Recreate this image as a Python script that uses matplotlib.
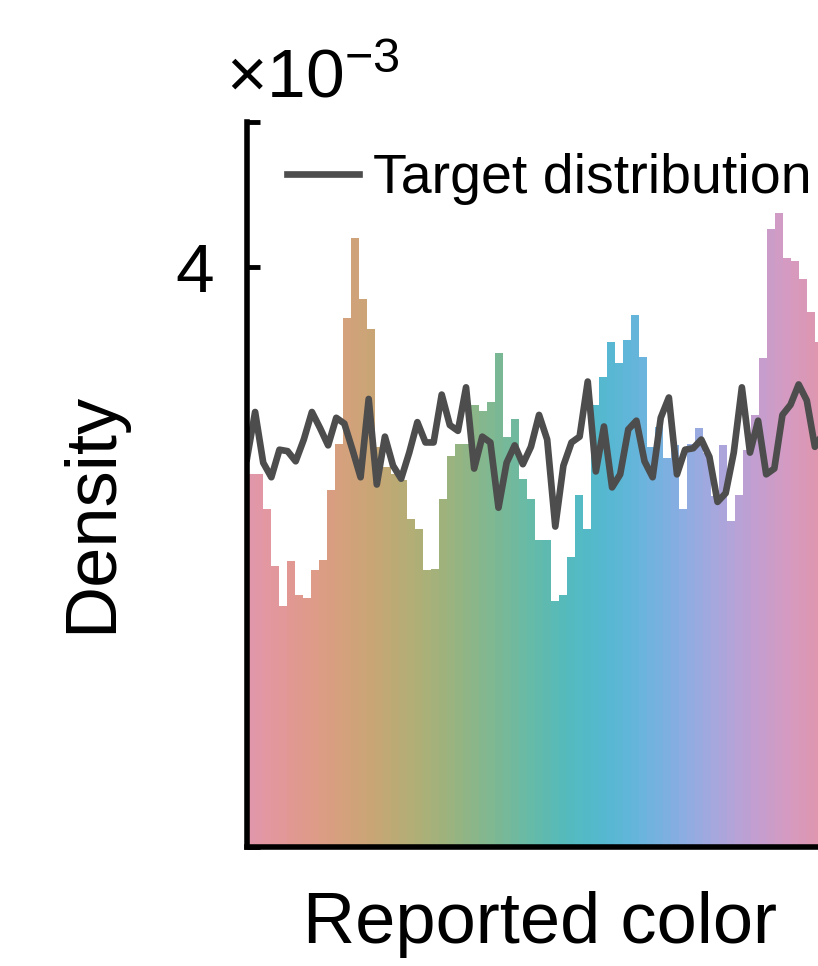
import numpy as np
import matplotlib
matplotlib.use("Agg")
import matplotlib.pyplot as plt

plt.rcParams['font.family'] = ['Liberation Sans', 'DejaVu Sans']
plt.rcParams['mathtext.fontset'] = 'custom'
plt.rcParams['mathtext.rm'] = 'Liberation Sans'
plt.rcParams['mathtext.it'] = 'Liberation Sans'

# histogram of reported colors (density, x1e-3), 72 bins of 5 deg
bin_edges = np.arange(0, 361, 5)
hist_vals = [2.57, 2.57, 2.33, 1.94, 1.66, 1.97, 1.74, 1.72, 1.91, 1.98,
             2.46, 2.78, 3.65, 4.20, 3.78, 3.57, 2.76, 2.62, 2.57, 2.53,
             2.26, 2.19, 1.91, 1.92, 2.40, 2.70, 2.78, 2.78, 3.05, 3.01,
             3.07, 3.41, 2.83, 2.95, 2.54, 2.40, 2.12, 2.12, 1.70, 1.74,
             2.00, 2.43, 2.19, 3.05, 3.24, 3.48, 3.34, 3.50, 3.67, 3.38,
             2.76, 2.90, 2.68, 2.77, 2.33, 2.78, 2.89, 2.72, 2.42, 2.77,
             2.25, 2.43, 2.74, 2.98, 3.37, 4.26, 4.37, 4.06, 4.04, 3.92,
             3.69, 3.48]

# target distribution (x1e-3)
target_x = np.linspace(0, 360, 72)
target_vals = [2.68, 3.00, 2.65, 2.55, 2.74, 2.73, 2.66, 2.81, 3.00, 2.89,
               2.77, 2.96, 2.92, 2.74, 2.55, 3.09, 2.50, 2.83, 2.63, 2.54,
               2.72, 2.93, 2.79, 2.79, 3.12, 2.91, 2.87, 3.17, 2.61, 2.83,
               2.79, 2.34, 2.65, 2.77, 2.64, 2.76, 2.98, 2.81, 2.21, 2.63,
               2.79, 2.83, 3.21, 2.59, 2.90, 2.48, 2.57, 2.88, 2.94, 2.66,
               2.55, 2.96, 3.10, 2.57, 2.74, 2.75, 2.81, 2.69, 2.38, 2.44,
               2.72, 3.17, 2.72, 2.94, 2.57, 2.61, 2.98, 3.05, 3.19, 3.08,
               2.76, 2.85]


def lab_wheel(deg, L=70.0, C=30.0):
    # CIELAB color wheel -> sRGB
    h = np.deg2rad(deg)
    a = C * np.cos(h)
    b = C * np.sin(h)
    fy = np.full_like(a, (L + 16) / 116)
    fx = fy + a / 500
    fz = fy - b / 200

    def finv(t):
        return np.where(t > 6 / 29, t ** 3, 3 * (6 / 29) ** 2 * (t - 4 / 29))

    xyz = np.stack([0.95047 * finv(fx), 1.0 * finv(fy), 1.08883 * finv(fz)], axis=-1)
    M = np.array([[3.2406, -1.5372, -0.4986],
                  [-0.9689, 1.8758, 0.0415],
                  [0.0557, -0.2040, 1.0570]])
    rgb = xyz @ M.T
    rgb = np.where(rgb <= 0.0031308, 12.92 * rgb, 1.055 * np.clip(rgb, 0, None) ** (1 / 2.4) - 0.055)
    return np.clip(rgb, 0, 1)


centers = (bin_edges[:-1] + bin_edges[1:]) / 2
colors = lab_wheel(centers)

fig = plt.figure(figsize=(8.18, 9.66), dpi=100)
ax = fig.add_axes([247 / 818, 119 / 966, 576 / 818, 725 / 966])

ax.bar(bin_edges[:-1], np.array(hist_vals) * 1e-3, width=5, align='edge',
       color=colors, linewidth=0)
ax.plot(target_x, np.array(target_vals) * 1e-3, color='#4d4d4d', lw=4.8,
        label='Target distribution')

ax.set_xlim(0, 360)
ax.set_ylim(0, 5e-3)
ax.set_xticks([])
ax.set_yticks([0, 4e-3, 5e-3])
ax.set_yticklabels(['', '4', ''])
ax.tick_params(axis='y', direction='in', length=9, width=3.5, pad=24, labelsize=50)
for s in ['top', 'right']:
    ax.spines[s].set_visible(False)
for s in ['left', 'bottom']:
    ax.spines[s].set_linewidth(4)

ax.legend(loc='upper left', bbox_to_anchor=(0.069, 0.957), frameon=False,
          fontsize=40, handlelength=1.3, handletextpad=0.25,
          borderaxespad=0, borderpad=0)

fig.text(226 / 818, 1 - 97 / 966, r'$\times10^{-3}$', fontsize=50,
         ha='left', va='baseline')
fig.text(93 / 818, 1 - 512 / 966, 'Density', rotation=90, fontsize=52,
         ha='center', va='center')
fig.text(540 / 818, 1 - 925 / 966, 'Reported color', fontsize=52,
         ha='center', va='center')

fig.savefig('out.png', dpi=100)
